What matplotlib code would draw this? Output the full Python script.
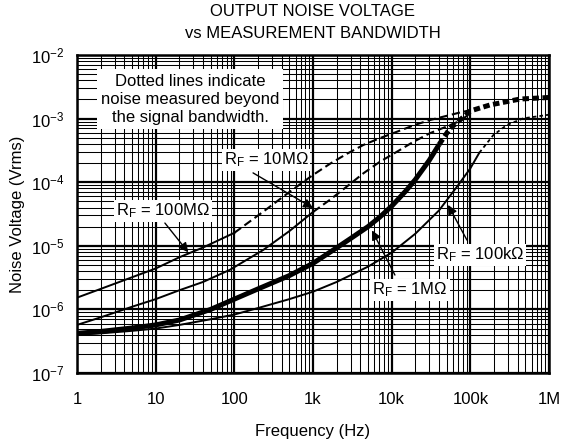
import matplotlib
matplotlib.use('Agg')
import matplotlib.pyplot as plt
from matplotlib.ticker import LogLocator, NullFormatter, FixedLocator, FixedFormatter

plt.rcParams['font.family'] = 'Liberation Sans'
plt.rcParams['mathtext.fontset'] = 'custom'
plt.rcParams['mathtext.rm'] = 'Liberation Sans'
plt.rcParams['mathtext.it'] = 'Liberation Sans:italic'
plt.rcParams['font.size'] = 12

# values (Hz, Vrms)
f_100M = [1, 2, 5, 10, 20, 40, 70, 100]
v_100M = [1.53e-6, 2.1e-6, 3.2e-6, 4.4e-6, 6.6e-6, 9.4e-6, 1.3e-5, 1.6e-5]
f_100M_ext = [100, 233, 500, 1000, 1645, 2700, 4370, 7000, 11600, 20000, 30700, 41100, 67000, 100000]
v_100M_ext = [1.6e-5, 3.44e-5, 7.0e-5, 1.3e-4, 1.95e-4, 2.8e-4, 3.85e-4, 4.9e-4, 6.2e-4,
              8.0e-4, 9.5e-4, 1.04e-3, 1.21e-3, 1.36e-3]

f_10M = [1, 2, 5, 10, 20, 40, 88, 233, 500, 1000]
v_10M = [5.7e-7, 7.5e-7, 1.1e-6, 1.45e-6, 2.0e-6, 2.7e-6, 4.2e-6, 8.6e-6, 1.7e-5, 3.4e-5]
f_10M_ext = [1000, 1645, 2680, 4370, 7100, 11600, 18800, 30700, 50000, 73800, 90000]
v_10M_ext = [3.4e-5, 5.3e-5, 8.5e-5, 1.38e-4, 2.1e-4, 3.0e-4, 4.3e-4, 5.9e-4, 7.5e-4, 9.2e-4, 1.1e-3]

f_1M = [1, 2, 5, 10, 20, 50, 100, 200, 500, 1000, 2000, 3000, 5000, 7000, 10000, 15000,
        20000, 30000, 40000]
v_1M = [4.2e-7, 4.5e-7, 5.1e-7, 5.7e-7, 6.8e-7, 1.0e-6, 1.45e-6, 2.1e-6, 3.4e-6, 5.3e-6,
        9.3e-6, 1.3e-5, 2.0e-5, 2.8e-5, 4.2e-5, 7.2e-5, 1.1e-4, 2.2e-4, 3.9e-4]
f_1M_ext = [40000, 55100, 73800, 100000, 178000, 428000, 1000000]
v_1M_ext = [3.9e-4, 7.0e-4, 9.5e-4, 1.32e-3, 1.64e-3, 2.03e-3, 2.15e-3]

f_100k = [1, 2, 5, 10, 20, 50, 100, 200, 500, 1000, 2000, 5000, 10000, 20000, 40000,
          70000, 100000, 130000]
v_100k = [4.0e-7, 4.2e-7, 4.6e-7, 5.0e-7, 5.7e-7, 7.0e-7, 8.3e-7, 1.05e-6, 1.45e-6, 1.9e-6,
          2.7e-6, 4.7e-6, 7.8e-6, 1.55e-5, 3.6e-5, 9.0e-5, 1.65e-4, 2.9e-4]
f_100k_ext = [130000, 196000, 290000, 472000, 1000000]
v_100k_ext = [2.9e-4, 5.5e-4, 7.9e-4, 1.01e-3, 1.15e-3]

xticks = [1, 10, 100, 1e3, 1e4, 1e5, 1e6]
xticklabels = ['1', '10', '100', '1k', '10k', '100k', '1M']

fig = plt.figure(figsize=(5.7, 4.44), dpi=100)
ax = fig.add_axes([77 / 570, 1 - 373 / 444, 472 / 570, 318 / 444])

ax.plot(f_100M, v_100M, color='black', lw=1.4)
ax.plot(f_100M_ext, v_100M_ext, color='black', lw=1.5, ls=(0, (4, 2)), dash_capstyle='butt')
ax.plot(f_10M, v_10M, color='black', lw=1.4)
ax.plot(f_10M_ext, v_10M_ext, color='black', lw=1.5, ls=(0, (4, 2)), dash_capstyle='butt')
ax.plot(f_100k, v_100k, color='black', lw=1.4)
ax.plot(f_100k_ext, v_100k_ext, color='black', lw=1.3, ls=(0, (2, 1.7)), dash_capstyle='butt')
ax.plot(f_1M, v_1M, color='black', lw=3.6, solid_capstyle='butt')
ax.plot(f_1M_ext, v_1M_ext, color='black', lw=3.6, ls=(0, (1.3, 0.7)), dash_capstyle='butt')

ax.set_xscale('log')
ax.set_yscale('log')
ax.set_xlim(1, 1e6)
ax.set_ylim(1e-7, 1e-2)

ax.xaxis.set_major_locator(FixedLocator(xticks))
ax.xaxis.set_major_formatter(FixedFormatter(xticklabels))
ax.xaxis.set_minor_locator(LogLocator(base=10, subs=range(2, 10), numticks=20))
ax.xaxis.set_minor_formatter(NullFormatter())
ax.yaxis.set_major_locator(LogLocator(base=10, numticks=10))
ax.yaxis.set_minor_locator(LogLocator(base=10, subs=range(2, 10), numticks=20))
ax.yaxis.set_minor_formatter(NullFormatter())

ax.set_axisbelow(True)
ax.grid(which='major', color='black', lw=1.6)
ax.grid(which='minor', color='black', lw=0.75)
ax.tick_params(which='both', length=0)
ax.tick_params(axis='x', pad=14)
ax.tick_params(axis='y', pad=9)
for s in ax.spines.values():
    s.set_linewidth(1.8)

ax.set_xlabel('Frequency (Hz)', labelpad=12)
ax.set_ylabel('Noise Voltage (Vrms)', labelpad=4)

fig.text(313 / 570, 1 - 12 / 444, 'OUTPUT NOISE VOLTAGE', ha='center', va='center')
fig.text(313 / 570, 1 - 33 / 444, 'vs MEASUREMENT BANDWIDTH', ha='center', va='center')

box = dict(facecolor='white', edgecolor='none', pad=1.5)
ax.text(27.3, 2.03e-3, 'Dotted lines indicate\nnoise measured beyond\nthe signal bandwidth.',
        ha='center', va='center', linespacing=1.25,
        bbox=dict(facecolor='white', edgecolor='none', pad=3))

labels = [
    ('R$_\\mathregular{F}$ = 10M\u03a9', (253, 2.23e-4), (173, 1.40e-4), (1000, 3.93e-5)),
    ('R$_\\mathregular{F}$ = 100M\u03a9', (12.4, 3.52e-5), (13.1, 2.28e-5), (26, 7.9e-6)),
    ('R$_\\mathregular{F}$ = 1M\u03a9', (17100, 2.02e-6), (11000, 3.47e-6), (5620, 1.75e-5)),
    ('R$_\\mathregular{F}$ = 100k\u03a9', (133000, 7.2e-6), (90600, 1.23e-5), (52000, 4.4e-5)),
]
for txt, pos, tail, tip in labels:
    ax.text(pos[0], pos[1], txt, ha='center', va='center', bbox=box, zorder=4)
    ax.annotate('', xy=tip, xytext=tail,
                arrowprops=dict(arrowstyle='-|>', color='black', lw=1.0,
                                mutation_scale=14, shrinkA=0, shrinkB=0),
                zorder=5)

fig.savefig('out.png', dpi=100)
